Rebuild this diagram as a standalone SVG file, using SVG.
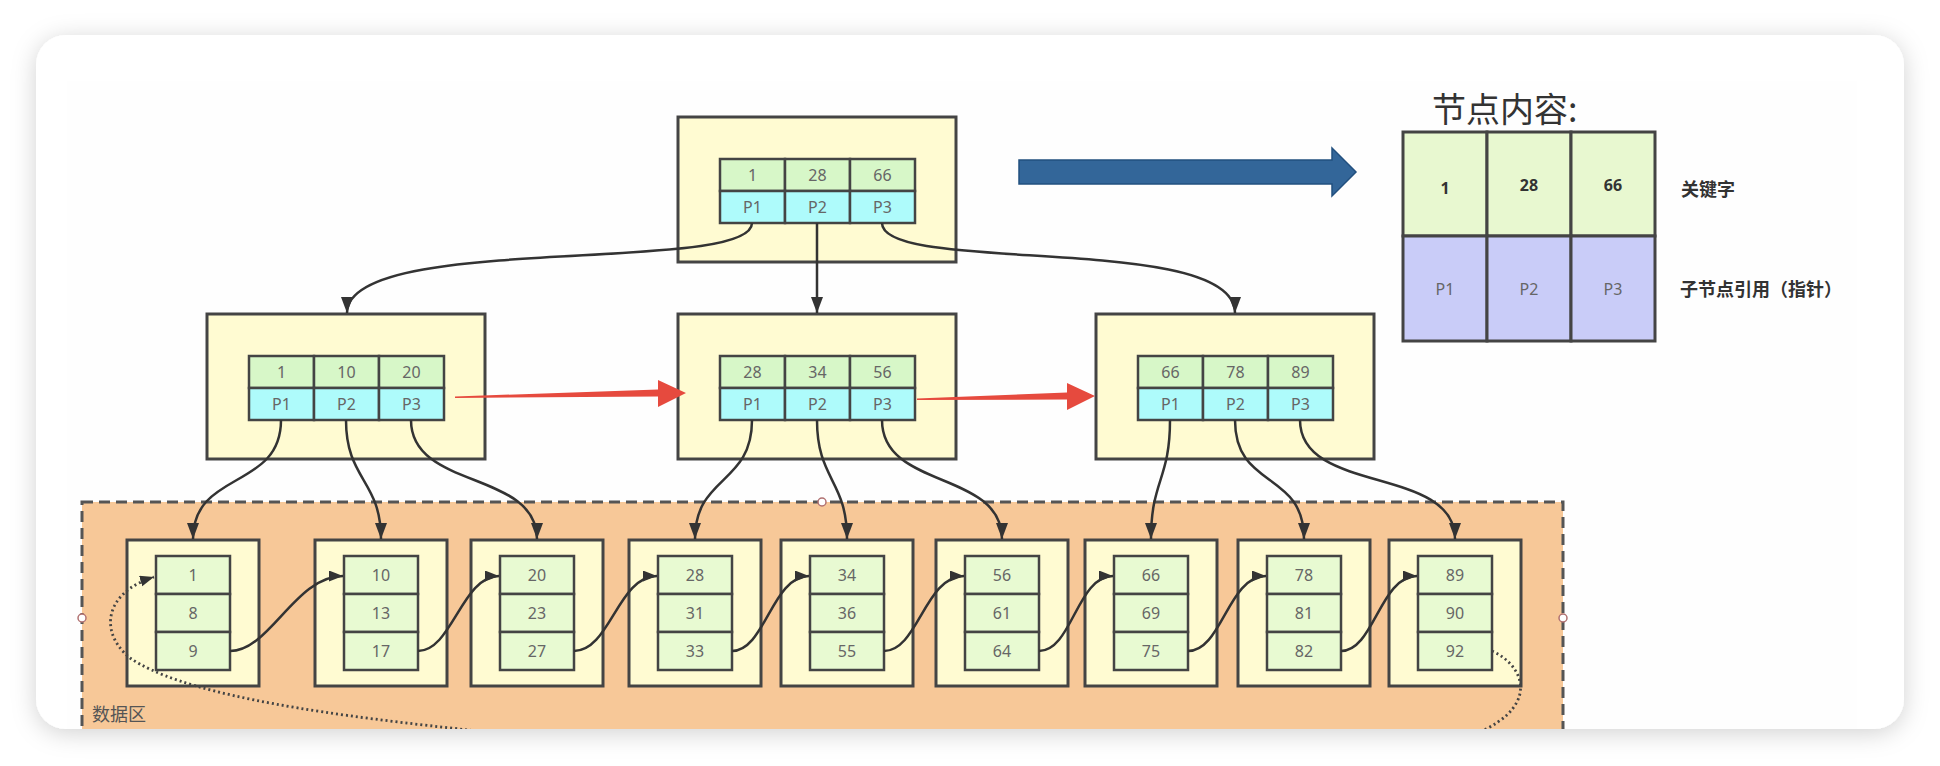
<svg xmlns="http://www.w3.org/2000/svg" width="1940" height="766" viewBox="0 0 1940 766">
<defs>
<filter id="shadow" x="-5%" y="-10%" width="110%" height="125%">
<feDropShadow dx="0" dy="4" stdDeviation="12" flood-color="#000" flood-opacity="0.18"/>
</filter>
<clipPath id="cardClip"><rect x="36" y="35" width="1868" height="694" rx="30"/></clipPath>
<marker id="ah" markerUnits="userSpaceOnUse" markerWidth="18" markerHeight="14" refX="16" refY="6" orient="auto">
<path d="M0,0 L16,6 L0,12 z" fill="#333"/>
</marker>
<marker id="ahs" markerUnits="userSpaceOnUse" markerWidth="16" markerHeight="12" refX="14" refY="5.5" orient="auto">
<path d="M0,0 L14,5.5 L0,11 z" fill="#333"/>
</marker>
</defs>
<style>
.outer{fill:#fffbd2;stroke:#444;stroke-width:3}
.key{fill:#d7f7c8;stroke:#444;stroke-width:2.5}
.ptr{fill:#aefbfb;stroke:#444;stroke-width:2.5}
.leafc{fill:#e8fad2;stroke:#444;stroke-width:2.5}
.t{font-family:"Noto Sans","DejaVu Sans",sans-serif;font-size:16px;fill:#666;text-anchor:middle;dominant-baseline:central}
.conn{fill:none;stroke:#333;stroke-width:2.5}
.lg{stroke:#444;stroke-width:3}
.cjk{font-family:"Noto Sans CJK SC","Noto Sans",sans-serif}
</style>
<rect x="0" y="0" width="1940" height="766" fill="#ffffff"/>
<rect x="36" y="35" width="1868" height="694" rx="30" fill="#ffffff" filter="url(#shadow)"/>
<g clip-path="url(#cardClip)">
<rect x="67" y="81" width="1790" height="660" fill="#fefefe"/>

<!-- data area -->
<g id="data-area">
<rect x="82" y="502" width="1481" height="280" fill="#f7c898" stroke="#555" stroke-width="3" stroke-dasharray="11,6"/>
<text x="92" y="721" class="cjk" font-size="18" fill="#555">数据区</text>
<circle cx="82" cy="618" r="4" fill="#fff" stroke="#b07070" stroke-width="1.5"/>
<circle cx="1563" cy="618" r="4" fill="#fff" stroke="#b07070" stroke-width="1.5"/>
<circle cx="822" cy="502" r="4" fill="#fff" stroke="#b07070" stroke-width="1.5"/>
</g>

<!-- root -->
<g id="root">
<rect class="outer" x="678" y="117" width="278" height="145"/>
<rect class="key" x="720" y="159" width="65" height="32"/><rect class="key" x="785" y="159" width="65" height="32"/><rect class="key" x="850" y="159" width="65" height="32"/>
<rect class="ptr" x="720" y="191" width="65" height="32"/><rect class="ptr" x="785" y="191" width="65" height="32"/><rect class="ptr" x="850" y="191" width="65" height="32"/>
<text class="t" x="752.5" y="175">1</text><text class="t" x="817.5" y="175">28</text><text class="t" x="882.5" y="175">66</text>
<text class="t" x="752.5" y="207">P1</text><text class="t" x="817.5" y="207">P2</text><text class="t" x="882.5" y="207">P3</text>
</g>

<g id="node-left">
<rect class="outer" x="207" y="314" width="278" height="145"/>
<rect class="key" x="249" y="356" width="65" height="32"/><rect class="key" x="314" y="356" width="65" height="32"/><rect class="key" x="379" y="356" width="65" height="32"/>
<rect class="ptr" x="249" y="388" width="65" height="32"/><rect class="ptr" x="314" y="388" width="65" height="32"/><rect class="ptr" x="379" y="388" width="65" height="32"/>
<text class="t" x="281.5" y="372">1</text><text class="t" x="346.5" y="372">10</text><text class="t" x="411.5" y="372">20</text>
<text class="t" x="281.5" y="404">P1</text><text class="t" x="346.5" y="404">P2</text><text class="t" x="411.5" y="404">P3</text>
</g>

<g id="node-middle">
<rect class="outer" x="678" y="314" width="278" height="145"/>
<rect class="key" x="720" y="356" width="65" height="32"/><rect class="key" x="785" y="356" width="65" height="32"/><rect class="key" x="850" y="356" width="65" height="32"/>
<rect class="ptr" x="720" y="388" width="65" height="32"/><rect class="ptr" x="785" y="388" width="65" height="32"/><rect class="ptr" x="850" y="388" width="65" height="32"/>
<text class="t" x="752.5" y="372">28</text><text class="t" x="817.5" y="372">34</text><text class="t" x="882.5" y="372">56</text>
<text class="t" x="752.5" y="404">P1</text><text class="t" x="817.5" y="404">P2</text><text class="t" x="882.5" y="404">P3</text>
</g>

<g id="node-right">
<rect class="outer" x="1096" y="314" width="278" height="145"/>
<rect class="key" x="1138" y="356" width="65" height="32"/><rect class="key" x="1203" y="356" width="65" height="32"/><rect class="key" x="1268" y="356" width="65" height="32"/>
<rect class="ptr" x="1138" y="388" width="65" height="32"/><rect class="ptr" x="1203" y="388" width="65" height="32"/><rect class="ptr" x="1268" y="388" width="65" height="32"/>
<text class="t" x="1170.5" y="372">66</text><text class="t" x="1235.5" y="372">78</text><text class="t" x="1300.5" y="372">89</text>
<text class="t" x="1170.5" y="404">P1</text><text class="t" x="1235.5" y="404">P2</text><text class="t" x="1300.5" y="404">P3</text>
</g>

<!-- leaves -->
<g id="leaf-1"><rect class="outer" x="127" y="540" width="132" height="146"/>
<rect class="leafc" x="156" y="556" width="74" height="38"/><rect class="leafc" x="156" y="594" width="74" height="38"/><rect class="leafc" x="156" y="632" width="74" height="38"/>
<text class="t" x="193" y="575">1</text><text class="t" x="193" y="613">8</text><text class="t" x="193" y="651">9</text></g>
<g id="leaf-2"><rect class="outer" x="315" y="540" width="132" height="146"/>
<rect class="leafc" x="344" y="556" width="74" height="38"/><rect class="leafc" x="344" y="594" width="74" height="38"/><rect class="leafc" x="344" y="632" width="74" height="38"/>
<text class="t" x="381" y="575">10</text><text class="t" x="381" y="613">13</text><text class="t" x="381" y="651">17</text></g>
<g id="leaf-3"><rect class="outer" x="471" y="540" width="132" height="146"/>
<rect class="leafc" x="500" y="556" width="74" height="38"/><rect class="leafc" x="500" y="594" width="74" height="38"/><rect class="leafc" x="500" y="632" width="74" height="38"/>
<text class="t" x="537" y="575">20</text><text class="t" x="537" y="613">23</text><text class="t" x="537" y="651">27</text></g>
<g id="leaf-4"><rect class="outer" x="629" y="540" width="132" height="146"/>
<rect class="leafc" x="658" y="556" width="74" height="38"/><rect class="leafc" x="658" y="594" width="74" height="38"/><rect class="leafc" x="658" y="632" width="74" height="38"/>
<text class="t" x="695" y="575">28</text><text class="t" x="695" y="613">31</text><text class="t" x="695" y="651">33</text></g>
<g id="leaf-5"><rect class="outer" x="781" y="540" width="132" height="146"/>
<rect class="leafc" x="810" y="556" width="74" height="38"/><rect class="leafc" x="810" y="594" width="74" height="38"/><rect class="leafc" x="810" y="632" width="74" height="38"/>
<text class="t" x="847" y="575">34</text><text class="t" x="847" y="613">36</text><text class="t" x="847" y="651">55</text></g>
<g id="leaf-6"><rect class="outer" x="936" y="540" width="132" height="146"/>
<rect class="leafc" x="965" y="556" width="74" height="38"/><rect class="leafc" x="965" y="594" width="74" height="38"/><rect class="leafc" x="965" y="632" width="74" height="38"/>
<text class="t" x="1002" y="575">56</text><text class="t" x="1002" y="613">61</text><text class="t" x="1002" y="651">64</text></g>
<g id="leaf-7"><rect class="outer" x="1085" y="540" width="132" height="146"/>
<rect class="leafc" x="1114" y="556" width="74" height="38"/><rect class="leafc" x="1114" y="594" width="74" height="38"/><rect class="leafc" x="1114" y="632" width="74" height="38"/>
<text class="t" x="1151" y="575">66</text><text class="t" x="1151" y="613">69</text><text class="t" x="1151" y="651">75</text></g>
<g id="leaf-8"><rect class="outer" x="1238" y="540" width="132" height="146"/>
<rect class="leafc" x="1267" y="556" width="74" height="38"/><rect class="leafc" x="1267" y="594" width="74" height="38"/><rect class="leafc" x="1267" y="632" width="74" height="38"/>
<text class="t" x="1304" y="575">78</text><text class="t" x="1304" y="613">81</text><text class="t" x="1304" y="651">82</text></g>
<g id="leaf-9"><rect class="outer" x="1389" y="540" width="132" height="146"/>
<rect class="leafc" x="1418" y="556" width="74" height="38"/><rect class="leafc" x="1418" y="594" width="74" height="38"/><rect class="leafc" x="1418" y="632" width="74" height="38"/>
<text class="t" x="1455" y="575">89</text><text class="t" x="1455" y="613">90</text><text class="t" x="1455" y="651">92</text></g>

<!-- connectors -->
<g id="connectors">
<path class="conn" marker-end="url(#ah)" d="M752,223 C752,275 347,232 347,313"/>
<path class="conn" marker-end="url(#ah)" d="M817,223 L817,313"/>
<path class="conn" marker-end="url(#ah)" d="M882,223 C882,275 1235,232 1235,313"/>

<path class="conn" marker-end="url(#ah)" d="M281,420 C281,490 193,470 193,539"/>
<path class="conn" marker-end="url(#ah)" d="M346,420 C346,480 381,480 381,539"/>
<path class="conn" marker-end="url(#ah)" d="M411,420 C411,490 537,470 537,539"/>
<path class="conn" marker-end="url(#ah)" d="M752,420 C752,485 695,475 695,539"/>
<path class="conn" marker-end="url(#ah)" d="M817,420 C817,480 847,480 847,539"/>
<path class="conn" marker-end="url(#ah)" d="M882,420 C882,490 1002,470 1002,539"/>
<path class="conn" marker-end="url(#ah)" d="M1170,420 C1170,480 1151,480 1151,539"/>
<path class="conn" marker-end="url(#ah)" d="M1235,420 C1235,490 1304,470 1304,539"/>
<path class="conn" marker-end="url(#ah)" d="M1300,420 C1300,495 1455,465 1455,539"/>

<path class="conn" marker-end="url(#ahs)" d="M230,651 C270,651 295,576 343,576"/>
<path class="conn" marker-end="url(#ahs)" d="M418,651 C452,651 462,576 499,576"/>
<path class="conn" marker-end="url(#ahs)" d="M574,651 C610,651 618,576 657,576"/>
<path class="conn" marker-end="url(#ahs)" d="M732,651 C765,651 772,576 809,576"/>
<path class="conn" marker-end="url(#ahs)" d="M884,651 C918,651 925,576 964,576"/>
<path class="conn" marker-end="url(#ahs)" d="M1039,651 C1072,651 1077,576 1113,576"/>
<path class="conn" marker-end="url(#ahs)" d="M1188,651 C1222,651 1228,576 1266,576"/>
<path class="conn" marker-end="url(#ahs)" d="M1341,651 C1374,651 1380,576 1417,576"/>

<path fill="none" stroke="#444" stroke-width="2.8" stroke-dasharray="2,3" marker-end="url(#ahs)" d="M1492,651 C1530,668 1545,720 1440,745 C1200,790 700,760 460,729 C300,712 180,692 130,658 C98,632 105,592 154,577"/>

<polygon fill="#e64a3e" points="455,396.5 658,389.5 658,380 686,393 658,407 658,396.5 455,398"/>
<polygon fill="#e64a3e" points="917,398.5 1067,392.5 1067,383 1095,396 1067,410 1067,399.5 917,400"/>
</g>
</g>

<!-- blue arrow -->
<g id="blue-arrow">
<polygon fill="#336699" stroke="#22507f" stroke-width="1.5" points="1019,160 1332,160 1332,148 1356,172 1332,196 1332,184 1019,184"/>
</g>

<!-- legend -->
<g id="legend">
<text x="1432" y="122" class="cjk" font-size="34" fill="#333">节点内容:</text>
<rect class="lg" x="1403" y="132" width="84" height="104" fill="#e8f8d0"/>
<rect class="lg" x="1487" y="132" width="84" height="104" fill="#e8f8d0"/>
<rect class="lg" x="1571" y="132" width="84" height="104" fill="#e8f8d0"/>
<rect class="lg" x="1403" y="236" width="84" height="105" fill="#c9ccf8"/>
<rect class="lg" x="1487" y="236" width="84" height="105" fill="#c9ccf8"/>
<rect class="lg" x="1571" y="236" width="84" height="105" fill="#c9ccf8"/>
<text class="t" x="1445" y="188" style="fill:#333;font-weight:bold">1</text>
<text class="t" x="1529" y="185" style="fill:#333;font-weight:bold">28</text>
<text class="t" x="1613" y="185" style="fill:#333;font-weight:bold">66</text>
<text class="t" x="1445" y="289" style="fill:#666">P1</text>
<text class="t" x="1529" y="289" style="fill:#666">P2</text>
<text class="t" x="1613" y="289" style="fill:#666">P3</text>
<text x="1681" y="196" class="cjk" font-size="18" font-weight="bold" fill="#333">关键字</text>
<text x="1680" y="296" class="cjk" font-size="18" font-weight="bold" fill="#333">子节点引用（指针）</text>
</g>
</svg>
